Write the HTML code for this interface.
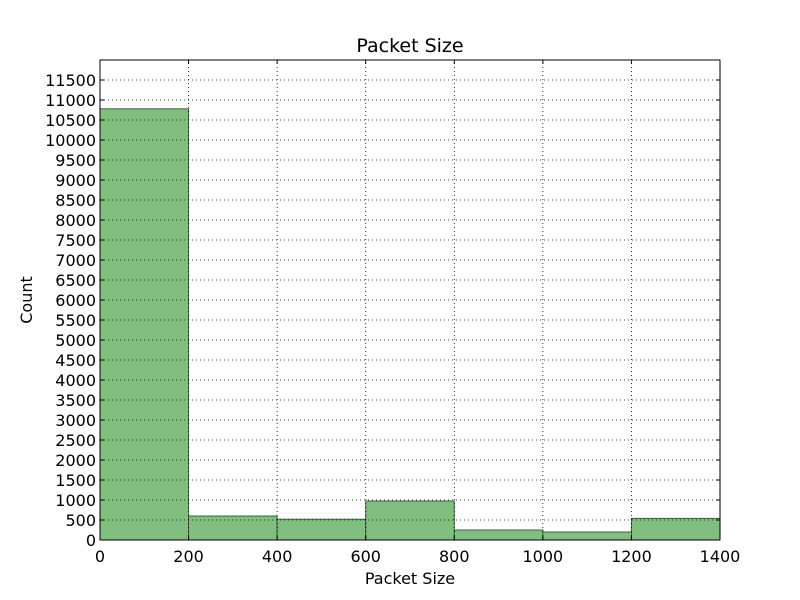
<!DOCTYPE html>
<html><head><meta charset="utf-8"><style>
body{margin:0;background:#fff;}
svg{display:block;font-family:"DejaVu Sans","Liberation Sans",sans-serif;}
</style></head><body>
<svg id="chart" width="800" height="600"></svg>
<script>
const binEdges=[0,200,400,600,800,1000,1200,1400];
const counts=[10780,600,520,975,250,200,540];
const yTicks=[0,500,1000,1500,2000,2500,3000,3500,4000,4500,5000,5500,6000,6500,7000,7500,8000,8500,9000,9500,10000,10500,11000,11500];
const xTicks=[0,200,400,600,800,1000,1200,1400];
const X0=100,X1=720,Y0=540,Y1=60,XMAX=1400,YMAX=12000;
const xs=v=>X0+v/XMAX*(X1-X0);
const ys=v=>Y0-v/YMAX*(Y0-Y1);
const svg=document.getElementById('chart');
const NS='http://www.w3.org/2000/svg';
function mk(tag,attrs,parent){const e=document.createElementNS(NS,tag);for(const k in attrs)e.setAttribute(k,attrs[k]);(parent||svg).appendChild(e);return e;}
for(let i=0;i<counts.length;i++){
  const r=mk('rect',{x:xs(binEdges[i]),y:ys(counts[i]),width:xs(binEdges[i+1])-xs(binEdges[i]),height:Y0-ys(counts[i]),fill:'#80bf80',stroke:'#3f5f3f','stroke-width':1});
  
  
}
for(const t of yTicks){
  const y=ys(t);
  const g=mk('line',{x1:X0,x2:X1,y1:y,y2:y,stroke:'#000','stroke-dasharray':'1,3','stroke-width':0.8});
  
  
  mk('line',{x1:X0,x2:X0+4,y1:y,y2:y,stroke:'#000'});
  mk('line',{x1:X1,x2:X1-4,y1:y,y2:y,stroke:'#000'});
  const l=mk('text',{x:X0-4,y:y+6,'text-anchor':'end','font-size':16});
  l.textContent=t;
  
  
}
for(const t of xTicks){
  const x=xs(t);
  const g=mk('line',{x1:x,x2:x,y1:Y0,y2:Y1,stroke:'#000','stroke-dasharray':'1,3','stroke-width':0.8});
  
  
  mk('line',{x1:x,x2:x,y1:Y0,y2:Y0-4,stroke:'#000'});
  mk('line',{x1:x,x2:x,y1:Y1,y2:Y1+4,stroke:'#000'});
  const l=mk('text',{x:x,y:Y0+22,'text-anchor':'middle','font-size':16});
  l.textContent=t;
  
  
}
const f=mk('rect',{x:X0,y:Y1,width:X1-X0,height:Y0-Y1,fill:'none',stroke:'#000','stroke-width':1});


const ti=mk('text',{x:410,y:52,'text-anchor':'middle','font-size':19});
ti.textContent='Packet Size';


const xl=mk('text',{x:410,y:584,'text-anchor':'middle','font-size':16});
xl.textContent='Packet Size';


const yl=mk('text',{x:32,y:300,'text-anchor':'middle','font-size':16,transform:'rotate(-90 32 300)'});
yl.textContent='Count';


</script>
</body></html>
